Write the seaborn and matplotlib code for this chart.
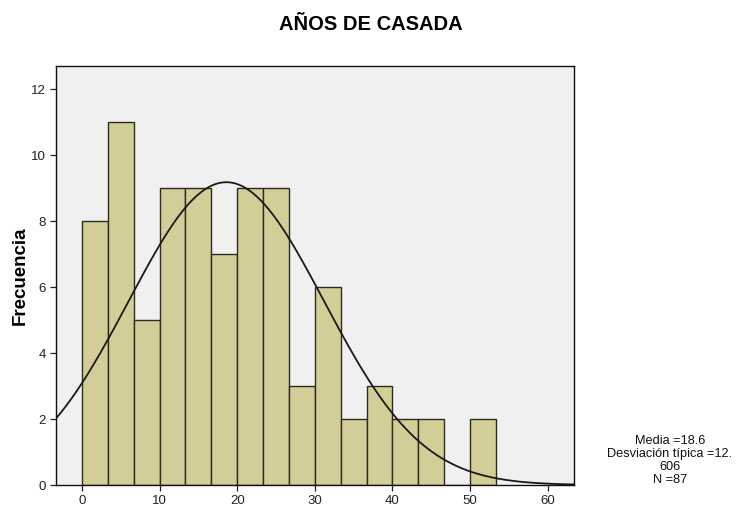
import numpy as np
import pandas as pd
import matplotlib
matplotlib.use("Agg")
import matplotlib.pyplot as plt
import seaborn as sns

# datos del histograma
frecuencias = [8, 11, 5, 9, 9, 7, 9, 9, 3, 6, 2, 3, 2, 2, 0, 2]
ancho_bin = 10 / 3
inicio_bin = 0.0
media = 18.6
desv = 12.606
n_total = 87

x_ticks = [0, 10, 20, 30, 40, 50, 60]
y_ticks = [0, 2, 4, 6, 8, 10, 12]

bordes = inicio_bin + ancho_bin * np.arange(len(frecuencias) + 1)
centros = (bordes[:-1] + bordes[1:]) / 2
df = pd.DataFrame({"anios": centros, "frec": frecuencias})

sns.set_theme(style="ticks")
plt.rcParams["font.family"] = ["Liberation Sans", "DejaVu Sans"]

fig = plt.figure(figsize=(7.41, 5.14), dpi=100)
ax = fig.add_axes([0.0756, 0.0564, 0.699, 0.8152])
ax.set_facecolor("#F0F0F0")

sns.histplot(data=df, x="anios", weights="frec", bins=list(bordes), ax=ax,
             color="#D3CE98", edgecolor="#2B2B1E", linewidth=1.0, alpha=1)

# curva normal
xmin, xmax = -3.35, 63.4
xs = np.linspace(xmin, xmax, 400)
ys = n_total * ancho_bin / (desv * np.sqrt(2 * np.pi)) * np.exp(-0.5 * ((xs - media) / desv) ** 2)
sns.lineplot(x=xs, y=ys, ax=ax, color="#1A1A1A", linewidth=1.3)

ax.set_xlim(xmin, xmax)
ax.set_ylim(0, 12.7)
ax.set_xticks(x_ticks)
ax.set_yticks(y_ticks)
ax.tick_params(axis="both", labelsize=9.5, colors="#222222", length=4, width=0.9)
for s in ax.spines.values():
    s.set_color("#111111")
    s.set_linewidth(1.0)

ax.set_xlabel("")
ax.set_ylabel("Frecuencia", fontsize=13.5, fontweight="bold", labelpad=1.5, color="black")
fig.suptitle("AÑOS DE CASADA", x=0.5, y=0.97, fontsize=14.5, fontweight="bold", color="black")

fig.text(0.904, 0.104, "Media =18.6\nDesviación típica =12.\n606\nN =87",
         ha="center", va="center", fontsize=9.2, linespacing=1.08, color="#111111")

fig.savefig("out.png", dpi=100)
